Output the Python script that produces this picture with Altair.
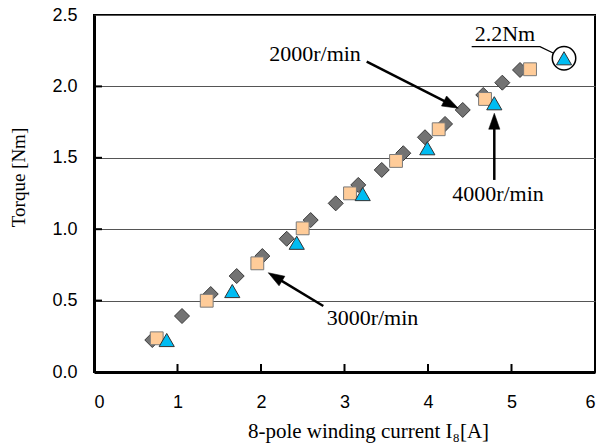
import math
import altair as alt
import pandas as pd

# ---- data ----
d2000_x = [0.698, 1.054, 1.398, 1.709, 2.016, 2.308, 2.595, 2.895, 3.165, 3.446,
           3.704, 3.964, 4.204, 4.416, 4.662, 4.890, 5.102]
d2000_y = [0.224, 0.392, 0.546, 0.672, 0.812, 0.933, 1.064, 1.181, 1.310, 1.415,
           1.532, 1.644, 1.737, 1.835, 1.940, 2.026, 2.115]
d3000_x = [0.751, 1.350, 1.956, 2.499, 3.066, 3.617, 4.128, 4.683, 5.222]
d3000_y = [0.236, 0.499, 0.761, 1.006, 1.251, 1.478, 1.700, 1.912, 2.120]
d4000_x = [0.871, 1.656, 2.428, 3.218, 3.992, 4.794, 5.629]
d4000_y = [0.224, 0.567, 0.905, 1.246, 1.567, 1.882, 2.197]

x_ticks = [0, 1, 2, 3, 4, 5, 6]
y_ticks = [0.0, 0.5, 1.0, 1.5, 2.0, 2.5]

# annotations: label, text position, arrow start, arrow tip
ann_labels = ["2000r/min", "4000r/min", "3000r/min"]
ann_tx = [2.647, 4.838, 3.335]
ann_ty = [2.228, 1.248, 0.379]
arr_sx = [3.266, 4.794, 2.746]
arr_sy = [2.173, 1.345, 0.462]
arr_ex = [4.363, 4.794, 2.087]
arr_ey = [1.847, 1.812, 0.695]

peak_label = "2.2Nm"
peak_tx, peak_ty = 4.922, 2.368
lead_x = [4.523, 5.341, 5.505]
lead_y = [2.278, 2.278, 2.232]
peak_x, peak_y = 5.629, 2.197

# ---- layout ----
W, H = 501, 357
PXX, PXY = W / 6.0, H / 2.5
HEAD = 16.0

xs = alt.Scale(domain=[0, 6], nice=False, zero=False)
ys = alt.Scale(domain=[0, 2.5], nice=False, zero=False)

rows = []
for i in range(3):
    dx = (arr_ex[i] - arr_sx[i]) * PXX
    dy = -(arr_ey[i] - arr_sy[i]) * PXY
    L = math.hypot(dx, dy)
    ux, uy = dx / L, dy / L
    ang = math.degrees(math.atan2(dx, -dy)) % 360
    ex = arr_ex[i] - ux * HEAD * 0.8 / PXX
    ey = arr_ey[i] + uy * HEAD * 0.8 / PXY
    rows.append(dict(sx=arr_sx[i], sy=arr_sy[i], ex=ex, ey=ey,
                     tx=arr_ex[i], ty=arr_ey[i], ang=ang))
arr_df = pd.DataFrame(rows)

df2 = pd.DataFrame({"x": d2000_x, "y": d2000_y})
df3 = pd.DataFrame({"x": d3000_x, "y": d3000_y})
df4 = pd.DataFrame({"x": d4000_x, "y": d4000_y})

xaxis = alt.Axis(values=x_ticks, format="d", title="8-pole winding current I₈[A]",
                 labelFont="Liberation Sans", labelFontSize=18, labelColor="black",
                 labelPadding=21, ticks=False, tickSize=0, grid=False,
                 domainColor="black", domainWidth=3,
                 titleFont="Liberation Serif", titleFontSize=21,
                 titleFontWeight="normal", titleColor="black",
                 titleX=274, titleY=65, titleBaseline="alphabetic")
yaxis = alt.Axis(values=y_ticks, format=".1f", title="Torque [Nm]",
                 labelFont="Liberation Sans", labelFontSize=18, labelColor="black",
                 labelPadding=17, ticks=False, tickSize=0, grid=True,
                 gridColor="#555555", gridWidth=1,
                 domainColor="black", domainWidth=3,
                 titleFont="Liberation Serif", titleFontSize=19,
                 titleFontWeight="normal", titleColor="black",
                 titleX=-70, titleY=162, titleBaseline="alphabetic")

base = alt.Chart(df2).mark_point(
    shape="diamond", filled=True, fill="#737373", stroke="#3a3a3a",
    strokeWidth=1, size=225, opacity=1
).encode(x=alt.X("x:Q", scale=xs, axis=xaxis),
         y=alt.Y("y:Q", scale=ys, axis=yaxis))

sq = alt.Chart(df3).mark_point(
    shape="square", filled=True, fill="#FFCC99", stroke="#7a7a7a",
    strokeWidth=1, size=165, opacity=1
).encode(x=alt.X("x:Q", scale=xs), y=alt.Y("y:Q", scale=ys))

tri = alt.Chart(df4).mark_point(
    shape="triangle-up", filled=True, fill="#00BCF2", stroke="#333333",
    strokeWidth=1, size=230, opacity=1
).encode(x=alt.X("x:Q", scale=xs), y=alt.Y("y:Q", scale=ys))

ytk = alt.Chart(pd.DataFrame({"v": [0.5, 1.0, 1.5, 2.0]})).mark_rule(
    color="black", strokeWidth=2
).encode(y=alt.Y("v:Q", scale=ys), x=alt.value(0), x2=alt.value(8))
xtk = alt.Chart(pd.DataFrame({"v": [1, 2, 3, 4, 5]})).mark_rule(
    color="black", strokeWidth=2
).encode(x=alt.X("v:Q", scale=xs), y=alt.value(H), y2=alt.value(H - 8))

txt = alt.Chart(pd.DataFrame({"t": ann_labels, "x": ann_tx, "y": ann_ty})).mark_text(
    font="Liberation Serif", fontSize=22, color="black", align="center", baseline="middle"
).encode(x=alt.X("x:Q", scale=xs), y=alt.Y("y:Q", scale=ys), text="t:N")

shaft = alt.Chart(arr_df).mark_rule(color="black", strokeWidth=2.5).encode(
    x=alt.X("sx:Q", scale=xs), y=alt.Y("sy:Q", scale=ys), x2="ex:Q", y2="ey:Q")
head = alt.Chart(arr_df).mark_point(
    shape="M0,0L-0.35,1L0.35,1Z", filled=True, fill="black", stroke="black",
    strokeWidth=0.5, size=(2 * HEAD) ** 2, opacity=1
).encode(x=alt.X("tx:Q", scale=xs), y=alt.Y("ty:Q", scale=ys),
         angle=alt.Angle("ang:Q", scale=None))

ptxt = alt.Chart(pd.DataFrame({"t": [peak_label], "x": [peak_tx], "y": [peak_ty]})).mark_text(
    font="Liberation Serif", fontSize=22, color="black", align="center", baseline="middle"
).encode(x=alt.X("x:Q", scale=xs), y=alt.Y("y:Q", scale=ys), text="t:N")
lead = alt.Chart(pd.DataFrame({"x": lead_x, "y": lead_y, "o": [0, 1, 2]})).mark_line(
    color="black", strokeWidth=1.3
).encode(x=alt.X("x:Q", scale=xs), y=alt.Y("y:Q", scale=ys), order="o:Q")
circ = alt.Chart(pd.DataFrame({"x": [peak_x], "y": [peak_y]})).mark_point(
    shape="circle", filled=False, stroke="black", strokeWidth=1.5, size=550, opacity=1
).encode(x=alt.X("x:Q", scale=xs), y=alt.Y("y:Q", scale=ys))

chart = alt.layer(base, sq, tri, ytk, xtk, shaft, head, txt, ptxt, lead, circ).properties(
    width=W, height=H,
    autosize=alt.AutoSizeParams(type="none"),
    padding={"left": 94, "top": 15, "right": 6, "bottom": 71},
    background="white",
).configure_view(stroke="black", strokeWidth=2)

chart.save("out.html", embed_options={"renderer": "svg", "actions": False})
